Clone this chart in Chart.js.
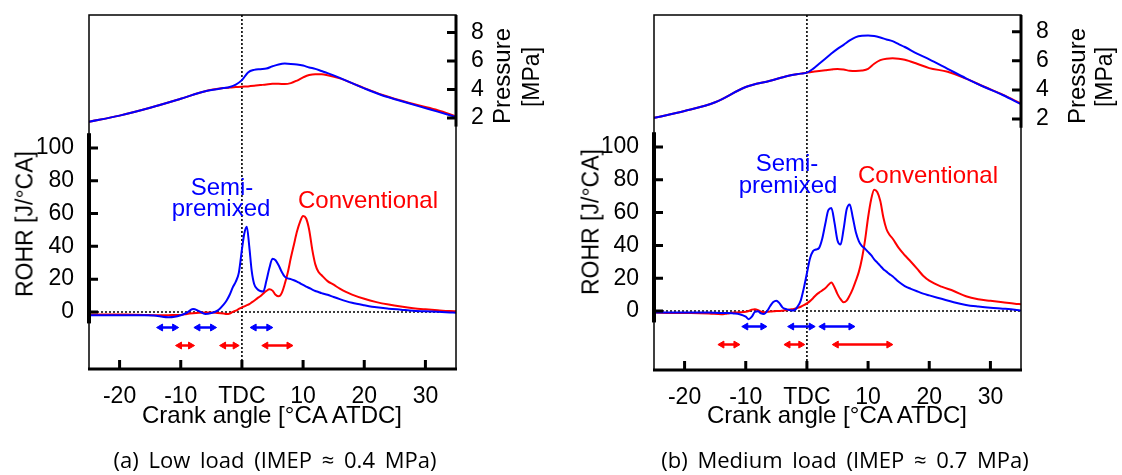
<!DOCTYPE html>
<html>
<head>
<meta charset="utf-8">
<script src="https://cdn.jsdelivr.net/npm/chart.js@4.4.1/dist/chart.umd.min.js"></script>
<style>
  body { margin: 0; background: #fff; }
  #wrap { position: relative; width: 1122px; height: 475px; overflow: hidden; font-family: "Liberation Sans", Arial, sans-serif; color: #000; }
  canvas { position: absolute; top: 0; }
  .t { position: absolute; white-space: nowrap; line-height: 1; transform: translateX(-50%); }
  .v { position: absolute; white-space: nowrap; line-height: 1; font-size: 23px; transform: translate(-50%, -50%) rotate(-90deg); }
  .blue { color: #0000ff; font-size: 24px; }
  .red { color: #ff0000; font-size: 24px; }
  .cap { font-family: "Open Sans", sans-serif; font-size: 22px; word-spacing: 4px; }
</style>
</head>
<body>
<div id="wrap">
  <canvas id="chartA" width="561" height="475" style="left:0"></canvas>
  <canvas id="chartB" width="561" height="475" style="left:561px"></canvas>

  <div class="v" style="left:25px; top:224px">ROHR [J/°CA]</div>
  <div class="v" style="left:502px; top:76px; font-size:24px">Pressure</div>
  <div class="v" style="left:531px; top:77px">[MPa]</div>
  <div class="t blue" style="left:222px; top:175px">Semi-</div>
  <div class="t blue" style="left:221px; top:196px">premixed</div>
  <div class="t red" style="left:368px; top:188px">Conventional</div>
  <div class="t" style="left:272px; top:403px; font-size:24px">Crank angle [°CA ATDC]</div>
  <div class="t cap" style="left:275px; top:448px">(a) Low load (IMEP ≈ 0.4 MPa)</div>

  <div class="v" style="left:591px; top:222px">ROHR [J/°CA]</div>
  <div class="v" style="left:1077px; top:76px; font-size:24px">Pressure</div>
  <div class="v" style="left:1104px; top:77px">[MPa]</div>
  <div class="t blue" style="left:787px; top:151px">Semi-</div>
  <div class="t blue" style="left:788px; top:173px">premixed</div>
  <div class="t red" style="left:928px; top:163px">Conventional</div>
  <div class="t" style="left:837px; top:403px; font-size:24px">Crank angle [°CA ATDC]</div>
  <div class="t cap" style="left:845px; top:448px">(b) Medium load (IMEP ≈ 0.7 MPa)</div>
</div>

<script>
// tick labels
const X_TICKS = [-20, -10, 0, 10, 20, 30];
const ROHR_TICKS = [0, 20, 40, 60, 80, 100];
const P_TICKS = [2, 4, 6, 8];

// (a) low load - cylinder pressure [MPa]
const P_ANGLE_A = [-25, -20, -15, -10, -6, -3, -2, -1, 0, 1, 2, 3, 4, 5, 6, 7, 8, 9, 10, 11, 12, 13, 14, 16, 18, 20, 23, 26, 29, 32, 35];
const P_CONV_A = [1.74, 2.17, 2.72, 3.35, 3.88, 4.1, 4.14, 4.17, 4.2, 4.22, 4.26, 4.31, 4.36, 4.4, 4.4, 4.38, 4.45, 4.63, 4.85, 5.02, 5.08, 5.07, 5.0, 4.78, 4.45, 4.1, 3.62, 3.23, 2.88, 2.55, 2.12];
const P_SEMI_A = [1.74, 2.17, 2.72, 3.35, 3.88, 4.1, 4.18, 4.35, 4.66, 5.2, 5.38, 5.43, 5.47, 5.63, 5.76, 5.82, 5.8, 5.76, 5.68, 5.55, 5.45, 5.3, 5.15, 4.82, 4.45, 4.08, 3.58, 3.2, 2.82, 2.45, 2.07];

// (a) low load - rate of heat release [J/deg CA]
const R_ANGLE_A = [-25, -22, -19, -16, -14, -13, -12, -11, -10, -9, -8, -7, -6, -5, -4, -3, -2.5, -2, -1.5, -1, -0.5, 0, 0.4, 0.8, 1.2, 1.6,
  2, 2.5, 3, 3.5, 4, 4.5, 5, 5.5, 6, 6.5, 7, 7.5, 8, 8.5, 9, 9.5, 10, 10.5, 11, 11.5, 12, 12.5, 13, 14, 15, 16, 17, 18, 20, 22, 24, 26, 28, 30, 32, 34, 35];
const R_SEMI_A = [-2, -2, -2, -2, -2.3, -3, -3.3, -3, -2, -0.5, 1.8, 0.5, -1.2, -0.6, 0.8, 4.5, 7, 10.5, 15, 18.5, 24, 38, 48, 52, 40, 25,
  17, 14, 12.8, 12.5, 19, 27, 32.5, 31.5, 28.5, 24.5, 21.5, 20.5, 20, 19.3, 18.5, 17.5, 16.5, 15.5, 14.6, 13.6, 12.8, 12.2, 11.5, 10.5, 9.1, 7.8, 6.6, 5.6, 4.1, 2.8, 2.0, 1.4, 0.8, 0.4, 0.1, -0.3, -0.5];
const R_CONV_A = [-1.5, -1.5, -1.5, -1.8, -2, -2, -2, -1.8, -1.8, -1.2, -0.8, -0.5, -0.3, -0.3, -0.6, -1, -1.3, -1, 0, 0.8, 1.8, 2.8, 3.4, 4.1, 4.8, 5.8,
  6.8, 8.3, 9.6, 11.3, 12.8, 13.8, 13, 10.5, 9.5, 11.5, 17, 24, 33, 41, 49, 55, 58.5, 57, 50, 38, 29, 24.5, 22.5, 18.8, 16.6, 14.2, 12.2, 10.6, 8.0, 6.0, 4.5, 3.3, 2.3, 1.6, 1.0, 0.5, 0.4];

// (b) medium load - cylinder pressure [MPa]
const P_ANGLE_B = [-25, -20, -15, -10, -6, -3, -1, 0, 1, 2, 3, 4, 5, 6, 7, 8, 9, 10, 11, 12, 13, 14, 15, 16, 18, 20, 23, 26, 29, 32, 35];
const P_CONV_B = [2.08, 2.55, 3.15, 4.2, 4.63, 4.98, 5.12, 5.19, 5.25, 5.3, 5.35, 5.4, 5.44, 5.4, 5.32, 5.3, 5.33, 5.45, 5.8, 6.05, 6.15, 6.17, 6.14, 6.07, 5.8, 5.5, 5.25, 4.78, 4.22, 3.68, 3.06];
const P_SEMI_B = [2.08, 2.55, 3.15, 4.2, 4.63, 4.98, 5.12, 5.19, 5.45, 5.8, 6.15, 6.5, 6.82, 7.1, 7.4, 7.63, 7.72, 7.74, 7.7, 7.6, 7.47, 7.35, 7.15, 6.95, 6.5, 6.1, 5.45, 4.8, 4.2, 3.65, 3.02];

// (b) medium load - rate of heat release [J/deg CA]
const R_ANGLE_B = [-25, -22, -19, -16, -14, -13, -12, -11, -10, -9.5, -9, -8.5, -8, -7.5, -7, -6.5, -6, -5.5, -5, -4.5, -4, -3.5, -3, -2.5, -2, -1.5, -1, -0.5,
  0, 0.5, 1, 1.5, 2, 2.5, 3, 3.5, 4, 4.5, 5, 5.5, 6, 6.5, 7, 7.5, 8, 8.5, 9, 9.5, 10, 10.5, 11, 11.5, 12, 12.5, 13, 13.5, 14, 15, 16, 17, 18, 19, 20, 22, 24, 26, 28, 30, 32, 34, 35];
const R_SEMI_B = [-1, -1, -1, -1, -1.2, -1.2, -1.5, -2, -3.5, -5, -3.5, -0.5, -0.2, -1.5, -1.8, 0, 3, 5.5, 6.3, 4.8, 2.2, 1.2, 0.7, 0.3, 0.6, 2.8, 6.5, 14,
  23, 32, 36.5, 37.5, 38.5, 44, 53, 61.5, 62.8, 54, 43, 40.5, 50, 62, 65, 57, 48, 42.5, 39.5, 38, 36, 34, 31.5, 29.5, 27.5, 25.5, 24, 22.5, 21.2, 17.8, 15.2, 13.5, 12, 10.6, 9.5, 7.4, 5.3, 3.7, 2.7, 1.9, 1.4, 0.8, 0.3];
const R_CONV_B = [-1, -1.2, -1.2, -1.5, -2, -1.5, -1, -0.8, -0.5, 0, 0.8, 1, 0.5, -0.5, -0.8, -0.5, -0.3, -0.2, 0, 0, 0.2, 0.4, 0.7, 1, 1.3, 1.9, 2.6, 3.5,
  4.6, 6, 7.8, 9.8, 11.2, 12.5, 13.9, 15.8, 17.3, 14.5, 10.3, 7.2, 5.3, 6.3, 9.5, 13.5, 18.5, 24, 32, 43, 57, 68, 74, 72.5, 67, 57, 50, 46.5, 44.2, 38.5, 34, 30, 25.8, 21.5, 18.5, 14.8, 12.2, 9, 7.2, 6.2, 5.3, 4.4, 4.1];

// combustion duration arrows [deg CA]: start, end
const ARROWS_SEMI_A = [[-13.3, -11.0], [-7.2, -4.8], [2.0, 4.4]];
const ARROWS_CONV_A = [[-10.2, -8.4], [-3.0, -1.1], [3.9, 7.7]];
const ARROWS_SEMI_B = [[-10.0, -7.2], [-2.5, 0.7], [2.6, 7.2]];
const ARROWS_CONV_B = [[-13.9, -11.6], [-3.1, -1.0], [4.8, 13.4]];

const BLUE = '#0000ff';
const RED = '#ff0000';

Chart.defaults.font.family = '"Liberation Sans", Arial, sans-serif';
Chart.defaults.font.size = 23;
Chart.defaults.color = '#000';

function pts(xs, ys) {
  return xs.map((x, i) => ({ x: x, y: ys[i] }));
}

function arrowPts(list, level) {
  const out = [];
  list.forEach(([a, b]) => {
    out.push({ x: a, y: level }, { x: b, y: level }, { x: b + 0.01, y: null });
  });
  return out;
}

const framePlugin = {
  id: 'frame',
  beforeDatasetsDraw(chart) {
    const { ctx, chartArea: a, scales } = chart;
    const y0 = scales.y.getPixelForValue(0);
    const x0 = scales.x.getPixelForValue(0);
    ctx.save();
    ctx.strokeStyle = '#000';
    ctx.lineWidth = 1.6;
    ctx.setLineDash([2, 2]);
    ctx.beginPath();
    ctx.moveTo(a.left, y0); ctx.lineTo(a.right, y0);
    ctx.moveTo(x0, a.top); ctx.lineTo(x0, a.bottom);
    ctx.stroke();
    ctx.restore();
  },
  afterDatasetsDraw(chart) {
    const { ctx, chartArea: a, scales } = chart;
    ctx.save();
    ctx.strokeStyle = '#000';
    ctx.lineWidth = 1.5;
    ctx.strokeRect(a.left, a.top, a.right - a.left, a.bottom - a.top);
    // bottom axis
    ctx.lineWidth = 3;
    ctx.beginPath(); ctx.moveTo(a.left - 1, a.bottom); ctx.lineTo(a.right + 1, a.bottom); ctx.stroke();
    // ROHR axis bar
    ctx.lineWidth = 4;
    ctx.beginPath();
    ctx.moveTo(a.left, scales.y.getPixelForValue(109));
    ctx.lineTo(a.left, scales.y.getPixelForValue(-7));
    ctx.stroke();
    // pressure axis bar
    ctx.lineWidth = 3;
    ctx.beginPath();
    ctx.moveTo(a.right, a.top);
    ctx.lineTo(a.right, scales.p.getPixelForValue(1.4));
    ctx.stroke();
    // inward ticks
    ctx.lineWidth = 3;
    ctx.beginPath();
    X_TICKS.forEach(v => {
      const px = scales.x.getPixelForValue(v);
      ctx.moveTo(px, a.bottom); ctx.lineTo(px, a.bottom - 9);
    });
    ROHR_TICKS.forEach(v => {
      const py = scales.y.getPixelForValue(v);
      ctx.moveTo(a.left, py); ctx.lineTo(a.left + 9, py);
    });
    P_TICKS.forEach(v => {
      const py = scales.p.getPixelForValue(v);
      ctx.moveTo(a.right, py); ctx.lineTo(a.right - 9, py);
    });
    ctx.stroke();
    ctx.restore();
  }
};

function makeChart(id, d) {
  const curve = (data, color, axis) => ({
    data: data, borderColor: color, borderWidth: 2, pointRadius: 0,
    cubicInterpolationMode: 'monotone', yAxisID: axis
  });
  const arrows = (data, color) => ({
    data: data, borderColor: color, backgroundColor: color, borderWidth: 2.5,
    pointStyle: 'triangle', pointBorderWidth: 1,
    pointRadius: c => (c.raw && c.raw.y != null ? 4 : 0),
    pointRotation: c => (c.index % 3 === 0 ? -90 : 90),
    spanGaps: false, yAxisID: 'y'
  });
  // fixed axis box sizes so the plot frame lands where the reference has it
  const fixY = w => s => { s.width = w; s.paddingTop = 0; s.paddingBottom = 0; };
  return new Chart(document.getElementById(id), {
    type: 'line',
    data: {
      datasets: [
        curve(pts(d.pAngle, d.pSemi), BLUE, 'p'),
        curve(pts(d.pAngle, d.pConv), RED, 'p'),
        curve(pts(d.rAngle, d.rSemi), BLUE, 'y'),
        curve(pts(d.rAngle, d.rConv), RED, 'y'),
        arrows(arrowPts(d.arrSemi, -9.5), BLUE),
        arrows(arrowPts(d.arrConv, -20.5), RED)
      ]
    },
    options: {
      responsive: false,
      animation: false,
      events: [],
      layout: { autoPadding: false, padding: { top: 15, left: 0, right: 0, bottom: 0 } },
      plugins: { legend: { display: false }, tooltip: { enabled: false } },
      scales: {
        x: {
          type: 'linear', min: -25, max: 35,
          grid: { display: false }, border: { display: false },
          afterBuildTicks: s => { s.ticks = X_TICKS.map(v => ({ value: v })); },
          afterFit: s => { s.height = d.bottomH; s.paddingLeft = 0; s.paddingRight = 0; },
          ticks: { padding: 6, maxRotation: 0, callback: v => (v === 0 ? 'TDC' : String(v)) }
        },
        y: {
          position: 'left', min: d.rMin, max: d.rMax,
          grid: { display: false }, border: { display: false },
          afterBuildTicks: s => { s.ticks = ROHR_TICKS.map(v => ({ value: v })); },
          afterFit: fixY(d.leftW),
          ticks: { padding: 7 }
        },
        p: {
          position: 'right', min: d.pMin, max: d.pMax,
          grid: { display: false }, border: { display: false },
          afterBuildTicks: s => { s.ticks = P_TICKS.map(v => ({ value: v })); },
          afterFit: fixY(d.rightW),
          ticks: { padding: 7 }
        }
      }
    },
    plugins: [framePlugin]
  });
}

makeChart('chartA', {
  pAngle: P_ANGLE_A, pSemi: P_SEMI_A, pConv: P_CONV_A,
  rAngle: R_ANGLE_A, rSemi: R_SEMI_A, rConv: R_CONV_A,
  arrSemi: ARROWS_SEMI_A, arrConv: ARROWS_CONV_A,
  rMin: -34.8, rMax: 181.1, pMin: -15.61, pMax: 9.23,
  leftW: 89, rightW: 105, bottomH: 106
});

makeChart('chartB', {
  pAngle: P_ANGLE_B, pSemi: P_SEMI_B, pConv: P_CONV_B,
  rAngle: R_ANGLE_B, rSemi: R_SEMI_B, rConv: R_CONV_B,
  arrSemi: ARROWS_SEMI_B, arrConv: ARROWS_CONV_B,
  rMin: -36.0, rMax: 180.5, pMin: -15.25, pMax: 9.15,
  leftW: 93, rightW: 101, bottomH: 105
});
</script>
</body>
</html>
